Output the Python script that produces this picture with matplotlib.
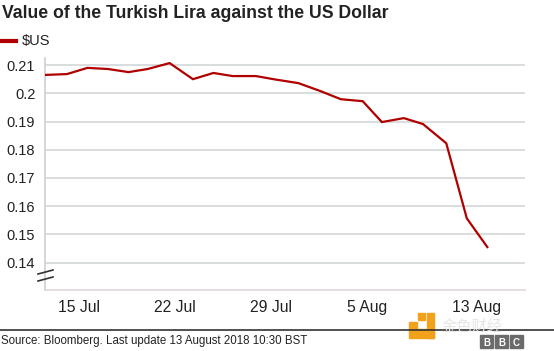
import matplotlib
matplotlib.use('Agg')
import matplotlib.pyplot as plt
from matplotlib.lines import Line2D
from matplotlib.patches import Rectangle

# day of July (13 Aug = 44)
days = [12.5, 14.1, 15.6, 17.1, 18.6, 20.0, 21.6, 23.3, 24.8, 26.2, 27.9,
        29.3, 31.0, 32.6, 34.1, 35.7, 37.1, 38.7, 40.1, 41.8, 43.3, 44.8]
usd = [0.2065, 0.2068, 0.2090, 0.2086, 0.2075, 0.2086, 0.2107, 0.2050,
       0.2072, 0.2061, 0.2061, 0.2049, 0.2036, 0.2008, 0.1979, 0.1972,
       0.1898, 0.1912, 0.1891, 0.1823, 0.1557, 0.1455]

xtick_pos = [15, 22, 29, 36, 44]
xtick_labels = ['15 Jul', '22 Jul', '29 Jul', '5 Aug', '13 Aug']
ytick_vals = [0.14, 0.15, 0.16, 0.17, 0.18, 0.19, 0.2, 0.21]
ytick_labels = ['0.14', '0.15', '0.16', '0.17', '0.18', '0.19', '0.2', '0.21']

plt.rcParams['font.family'] = ['Liberation Sans', 'DejaVu Sans']

W, H = 554, 351
fig = plt.figure(figsize=(W / 100, H / 100), dpi=100)
fig.patch.set_facecolor('white')

ax = fig.add_axes([45 / W, 1 - 290 / H, 480 / W, 232 / H])
ax.set_facecolor('white')

for v in ytick_vals:
    ax.axhline(v, color='#d7dadb', lw=1.3, zorder=1)

ax.plot(days, usd, color='#b00000', lw=1.6, zorder=3, solid_joinstyle='miter')

ax.set_xlim(12.5, 47.55)
ax.set_ylim(0.1303, 0.2125)
ax.set_xticks(xtick_pos)
ax.set_xticklabels(xtick_labels, fontsize=11.3, color='#222222')
ax.set_yticks(ytick_vals)
ax.set_yticklabels(ytick_labels, fontsize=10.5, color='#222222')
ax.tick_params(axis='both', length=0)
ax.tick_params(axis='x', pad=7.5)
ax.tick_params(axis='y', pad=7)

for s in ['top', 'right']:
    ax.spines[s].set_visible(False)
ax.spines['left'].set_color('#cfcfcf')
ax.spines['left'].set_linewidth(1.2)
ax.spines['bottom'].set_color('#e3d6d8')
ax.spines['bottom'].set_linewidth(1.2)

# axis break marks
for y0 in [272, 279]:
    fig.add_artist(Line2D([38 / W, 53 / W], [1 - (y0 + 2) / H, 1 - (y0 - 2) / H],
                          color='#333333', lw=1.2))

fig.text(2 / W, 1 - 14 / H, 'Value of the Turkish Lira against the US Dollar',
         fontsize=12.7, fontweight='bold', color='#222222', va='center')
fig.add_artist(Line2D([0, 16 / W], [1 - 41 / H, 1 - 41 / H], color='#b00000', lw=3))
fig.text(22 / W, 1 - 41 / H, '$US', fontsize=10.5, color='#222222', va='center')

fig.add_artist(Line2D([0, 1], [1 - 330 / H, 1 - 330 / H], color='#333333', lw=1.2))
fig.text(1 / W, 1 - 341 / H, 'Source: Bloomberg. Last update 13 August 2018 10:30 BST',
         fontsize=8.3, color='#222222', va='center')

# BBC blocks
for i, ch in enumerate('BBC'):
    x0 = 480 + i * 15
    fig.add_artist(Rectangle((x0 / W, 1 - 348 / H), 13 / W, 13 / H,
                             color='#6b6b6b', transform=fig.transFigure))
    fig.text((x0 + 6.5) / W, 1 - 342.5 / H, ch, fontsize=7, fontweight='bold',
             color='white', ha='center', va='center')

# watermark
fig.add_artist(Rectangle((409 / W, 1 - 338 / H), 25 / W, 9 / H,
                         color='#f2a11b', transform=fig.transFigure))
fig.add_artist(Rectangle((427 / W, 1 - 338 / H), 7 / W, 25 / H,
                         color='#f2a11b', transform=fig.transFigure))
fig.add_artist(Rectangle((409 / W, 1 - 329 / H), 8 / W, 7 / H,
                         color='#f2a11b', transform=fig.transFigure))
fig.add_artist(Rectangle((418 / W, 1 - 320 / H), 7 / W, 7 / H,
                         color='#f2a11b', transform=fig.transFigure))
fig.text(442 / W, 1 - 326.5 / H, '金色财经', fontsize=11,
         family=['Noto Sans CJK SC', 'DejaVu Sans'], color='#e6e6e6', va='center')

fig.savefig('out.png', dpi=100)
